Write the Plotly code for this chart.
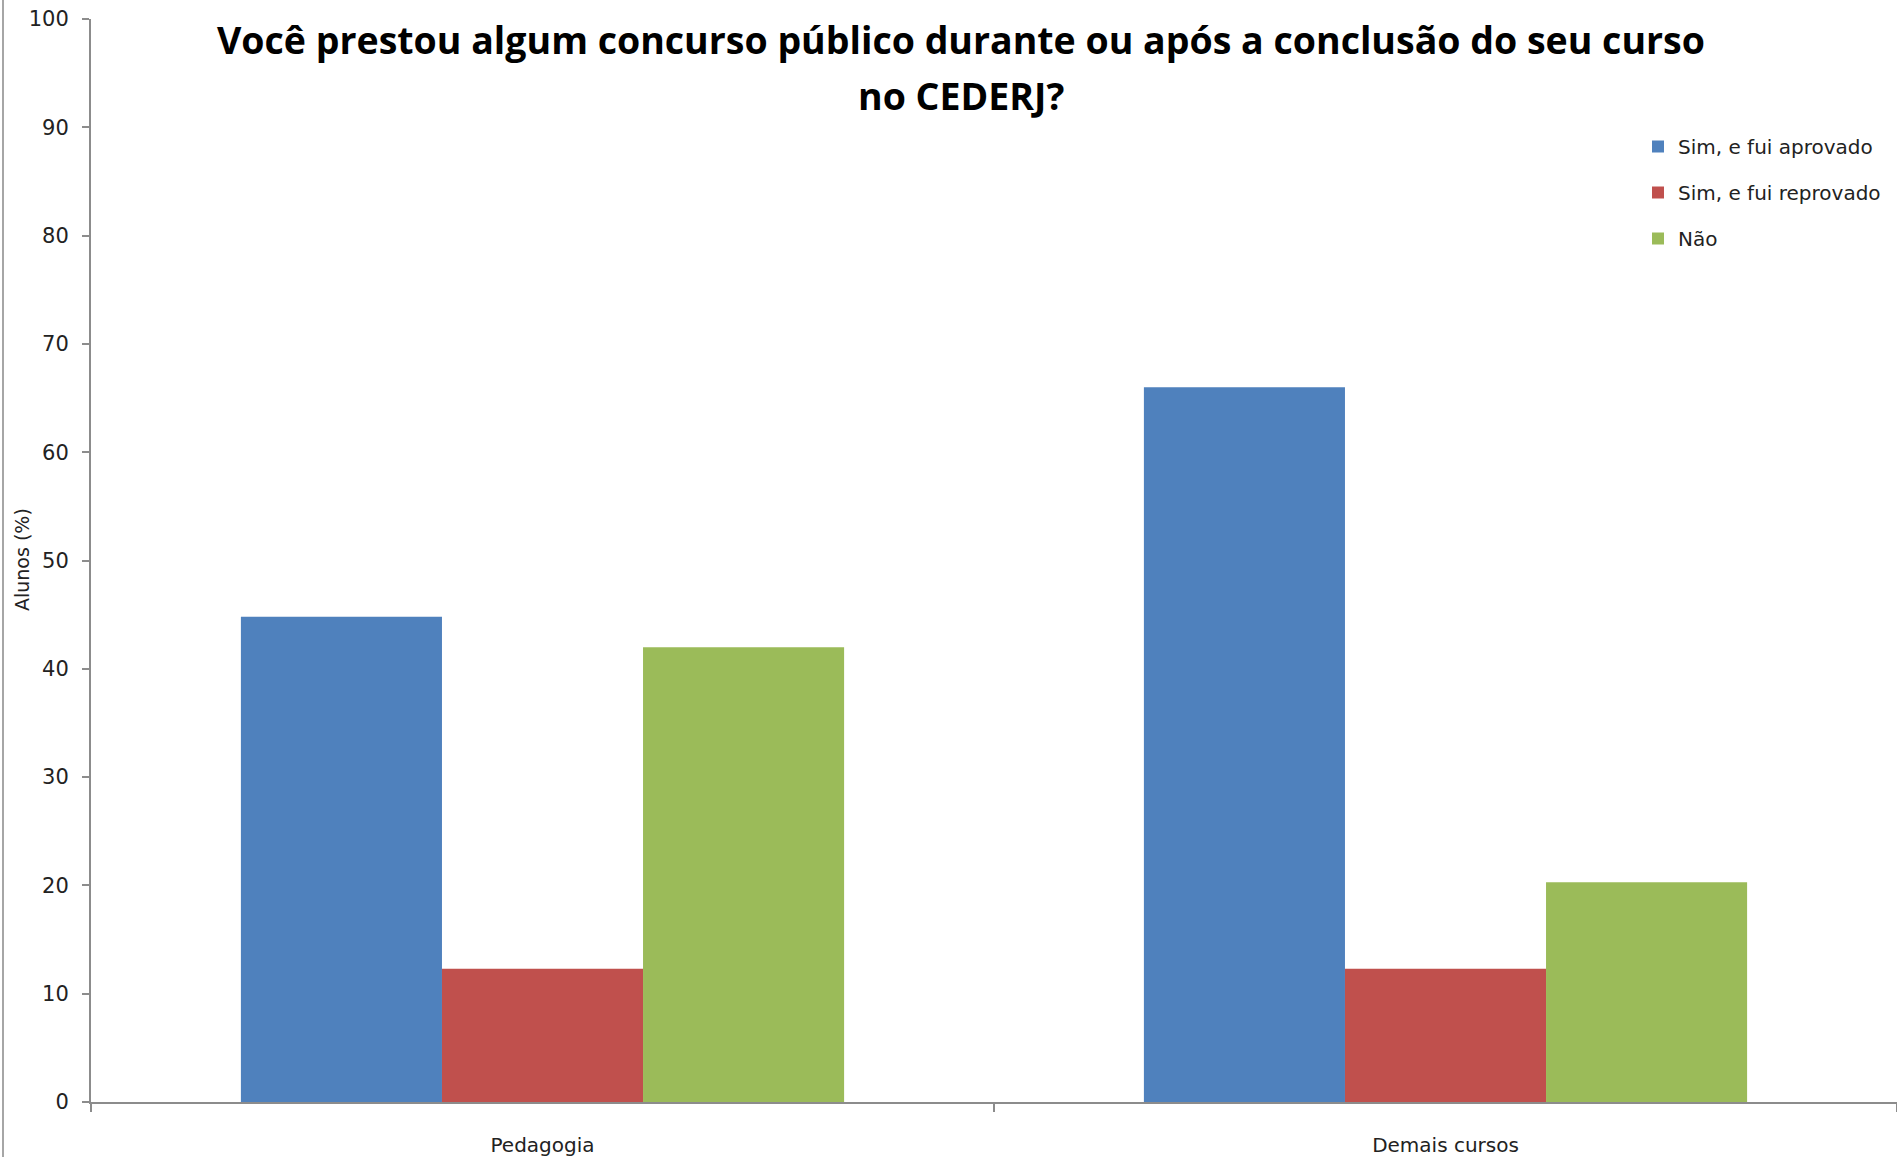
import plotly.graph_objects as go

categories = ["Pedagogia", "Demais cursos"]
series_names = ["Sim, e fui aprovado", "Sim, e fui reprovado", "Não"]
aprovado = [44.8, 66.0]
reprovado = [12.3, 12.3]
nao = [42.0, 20.3]
colors = ["#4F81BD", "#C0504D", "#9BBB59"]
y_ticks = list(range(0, 101, 10))

title_line1 = "Você prestou algum concurso público durante ou após a conclusão do seu curso"
title_line2 = "no CEDERJ?"
y_title = "Alunos (%)"

W, H = 1897, 1157
L, R, T, B = 91, 0, 19, 55
plot_w = W - L - R
plot_h = H - T - B

def px_to_paper_x(px):
    return (px - L) / plot_w

def px_to_paper_y(py):
    return (H - B - py) / plot_h

fig = go.Figure()
for i, (name, vals) in enumerate(zip(series_names, [aprovado, reprovado, nao])):
    fig.add_trace(go.Bar(
        x=categories, y=vals, name=name,
        marker=dict(color=colors[i], line=dict(width=0)),
        legendgroup=f"g{i}",
    ))

font_family = "DejaVu Sans"
fig.update_layout(
    width=W, height=H,
    margin=dict(l=L, r=R, t=T, b=B),
    paper_bgcolor="white", plot_bgcolor="white",
    barmode="group", bargap=0.332, bargroupgap=0,
    font=dict(family=font_family, size=19, color="#222222"),
    showlegend=True,
    legend=dict(
        x=px_to_paper_x(1638), y=px_to_paper_y(127), xanchor="left", yanchor="top",
        font=dict(family=font_family, size=20, color="#222222"),
        traceorder="grouped", tracegroupgap=17,
        bgcolor="rgba(0,0,0,0)",
    ),
    xaxis=dict(
        showline=True, linecolor="#8c8c8c", linewidth=2,
        ticks="outside", ticklen=8, tickcolor="#8c8c8c", tickwidth=2,
        tickson="boundaries", ticklabelstandoff=24,
        tickfont=dict(family=font_family, size=20, color="#222222"),
        showgrid=False, zeroline=False,
    ),
    yaxis=dict(
        range=[0, 100], tickvals=y_ticks, ticktext=[str(v) for v in y_ticks],
        showline=True, linecolor="#8c8c8c", linewidth=2,
        ticks="outside", ticklen=7, tickcolor="#8c8c8c", tickwidth=2,
        ticklabelstandoff=9,
        tickfont=dict(family=font_family, size=21, color="#222222"),
        showgrid=False, zeroline=False,
    ),
    annotations=[
        dict(text=f"<b>{title_line1}</b>", xref="paper", yref="paper",
             x=px_to_paper_x(961), y=px_to_paper_y(39), xanchor="center", yanchor="middle",
             showarrow=False, font=dict(family="Open Sans", size=37.5, color="#000000")),
        dict(text=f"<b>{title_line2}</b>", xref="paper", yref="paper",
             x=px_to_paper_x(961), y=px_to_paper_y(95), xanchor="center", yanchor="middle",
             showarrow=False, font=dict(family="Open Sans", size=37.5, color="#000000")),
        dict(text=y_title, xref="paper", yref="paper", textangle=-90,
             x=px_to_paper_x(22), y=px_to_paper_y(560), xanchor="center", yanchor="middle",
             showarrow=False, font=dict(family=font_family, size=19, color="#222222")),
    ],
    shapes=[
        dict(type="line", xref="paper", yref="paper",
             x0=px_to_paper_x(3), x1=px_to_paper_x(3),
             y0=px_to_paper_y(H), y1=px_to_paper_y(0),
             line=dict(color="#a6a6a6", width=2)),
    ],
)

fig.write_html("out.html", config={"displayModeBar": False},
               post_script="document.body.style.margin='0';")
